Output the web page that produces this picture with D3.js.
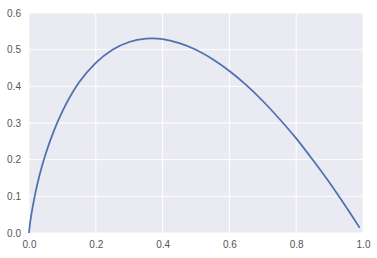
<!DOCTYPE html>
<html>
<head>
<meta charset="utf-8">
<script src="https://cdn.jsdelivr.net/npm/d3@7"></script>
<style>
body { margin: 0; background: #fff; }
text { font-family: "Liberation Sans", Arial, sans-serif; font-size: 10px; fill: #555; }
</style>
</head>
<body>
<script>
// values
var xs = [0, 0.001, 0.005, 0.01, 0.02, 0.03, 0.05, 0.075, 0.1, 0.125, 0.15, 0.2, 0.25, 0.3, 0.35, 0.37, 0.4, 0.45, 0.5, 0.55, 0.6, 0.65, 0.7, 0.75, 0.8, 0.85, 0.9, 0.95, 0.99];
var ys = [0, 0.010, 0.038, 0.066, 0.113, 0.152, 0.216, 0.280, 0.332, 0.375, 0.411, 0.464, 0.500, 0.521, 0.530, 0.531, 0.529, 0.518, 0.500, 0.474, 0.442, 0.404, 0.360, 0.311, 0.258, 0.199, 0.137, 0.070, 0.014];
var xTicks = [0.0, 0.2, 0.4, 0.6, 0.8, 1.0];
var yTicks = [0.0, 0.1, 0.2, 0.3, 0.4, 0.5, 0.6];

var width = 377;
var height = 258;
var margin = { top: 13, right: 14, bottom: 25, left: 29 };

var svg = d3.select("body")
    .append("svg")
    .attr("width", width)
    .attr("height", height);

var w = width - margin.left - margin.right;
var h = height - margin.top - margin.bottom;

var g = svg.append("g")
    .attr("transform", "translate(" + margin.left + "," + margin.top + ")");

var x = d3.scaleLinear().domain([0, 1]).range([0, w]);
var y = d3.scaleLinear().domain([0, 0.6]).range([h, 0]);

// background
g.append("rect")
    .attr("width", w)
    .attr("height", h)
    .attr("fill", "#eaeaf2");

// grid
g.selectAll(".vgrid")
    .data(xTicks)
    .enter().append("line")
    .attr("x1", function(d) { return x(d); })
    .attr("x2", function(d) { return x(d); })
    .attr("y1", 0)
    .attr("y2", h)
    .attr("stroke", "#fff")
    .attr("stroke-width", 1);

g.selectAll(".hgrid")
    .data(yTicks)
    .enter().append("line")
    .attr("x1", 0)
    .attr("x2", w)
    .attr("y1", function(d) { return y(d); })
    .attr("y2", function(d) { return y(d); })
    .attr("stroke", "#fff")
    .attr("stroke-width", 1);

// axes (labels only)
var xAxis = g.append("g")
    .attr("transform", "translate(0," + h + ")")
    .call(d3.axisBottom(x).tickValues(xTicks).tickFormat(d3.format(".1f")).tickSize(0).tickPadding(8));
var yAxis = g.append("g")
    .call(d3.axisLeft(y).tickValues(yTicks).tickFormat(d3.format(".1f")).tickSize(0).tickPadding(8));
xAxis.select(".domain").remove();
yAxis.select(".domain").remove();
svg.selectAll(".tick text").attr("fill", "#555").style("font-size", "10px");

// curve
var pts = xs.map(function(d, i) { return [d, ys[i]]; });
var line = d3.line()
    .x(function(d) { return x(d[0]); })
    .y(function(d) { return y(d[1]); })
    .curve(d3.curveMonotoneX);

g.append("path")
    .datum(pts)
    .attr("d", line)
    .attr("fill", "none")
    .attr("stroke", "#4c72b0")
    .attr("stroke-width", 1.75);
</script>
</body>
</html>
